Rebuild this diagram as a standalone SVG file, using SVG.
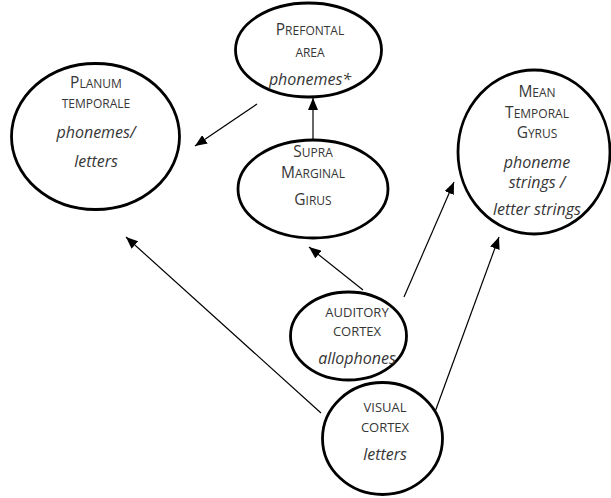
<svg xmlns="http://www.w3.org/2000/svg" width="611" height="498" viewBox="0 0 611 498">
<defs>
<marker id="ah" viewBox="0 0 12 10" refX="12" refY="5" markerWidth="12" markerHeight="10" markerUnits="userSpaceOnUse" orient="auto">
<path d="M0,0 L12,5 L0,10 Z" fill="#000"/>
</marker>
</defs>
<style>
.node ellipse{fill:#fff;stroke:#000;stroke-width:2.8}
text{font-family:"Open Sans","Liberation Sans",sans-serif;fill:#363636;text-anchor:middle}
.sc{font-size:12px}
.sc2{font-size:13px}
.big{font-size:15.5px}
.it{font-size:16px;font-style:italic}
.edges line{stroke:#000;stroke-width:1.2;marker-end:url(#ah)}
</style>
<rect width="611" height="498" fill="#fff"/>
<g class="edges">
<line x1="257" y1="104" x2="195" y2="146"/>
<line x1="313" y1="140" x2="313" y2="98"/>
<line x1="363" y1="290" x2="309" y2="247"/>
<line x1="321" y1="413" x2="126" y2="237"/>
<line x1="404" y1="297" x2="454" y2="182"/>
<line x1="435" y1="412" x2="499" y2="237"/>
</g>
<g id="planum" class="node">
<ellipse cx="95.5" cy="136.5" rx="84" ry="73"/>
<text x="96" y="88" class="sc"><tspan class="big">P</tspan>LANUM</text>
<text x="96" y="108" class="sc">TEMPORALE</text>
<text x="96" y="138" class="it">phonemes/</text>
<text x="96" y="167" class="it">letters</text>
</g>
<g id="prefrontal" class="node">
<ellipse cx="308.5" cy="50" rx="73" ry="47"/>
<text x="310" y="35" class="sc"><tspan class="big">P</tspan>REFONTAL</text>
<text x="310" y="57" class="sc">AREA</text>
<text x="310" y="85" class="it">phonemes*</text>
</g>
<g id="supra" class="node">
<ellipse cx="313" cy="189" rx="75" ry="49"/>
<text x="313" y="157" class="sc"><tspan class="big">S</tspan>UPRA</text>
<text x="313" y="178" class="sc"><tspan class="big">M</tspan>ARGINAL</text>
<text x="313" y="205" class="sc"><tspan class="big">G</tspan>IRUS</text>
</g>
<g id="mtg" class="node">
<ellipse cx="534" cy="152" rx="76" ry="82"/>
<text x="537" y="97" class="sc"><tspan class="big">M</tspan>EAN</text>
<text x="537" y="118" class="sc"><tspan class="big">T</tspan>EMPORAL</text>
<text x="537" y="138" class="sc"><tspan class="big">G</tspan>YRUS</text>
<text x="537" y="168" class="it">phoneme</text>
<text x="537" y="188" class="it">strings /</text>
<text x="537" y="215" class="it">letter strings</text>
</g>
<g id="auditory" class="node">
<ellipse cx="348.5" cy="336" rx="58" ry="44"/>
<text x="357" y="317" class="sc2">AUDITORY</text>
<text x="357" y="336" class="sc2">CORTEX</text>
<text x="357" y="364" class="it">allophones</text>
</g>
<g id="visual" class="node">
<ellipse cx="382.5" cy="438.5" rx="60" ry="56"/>
<text x="385" y="412" class="sc2">VISUAL</text>
<text x="385" y="432" class="sc2">CORTEX</text>
<text x="385" y="460" class="it">letters</text>
</g>
</svg>
